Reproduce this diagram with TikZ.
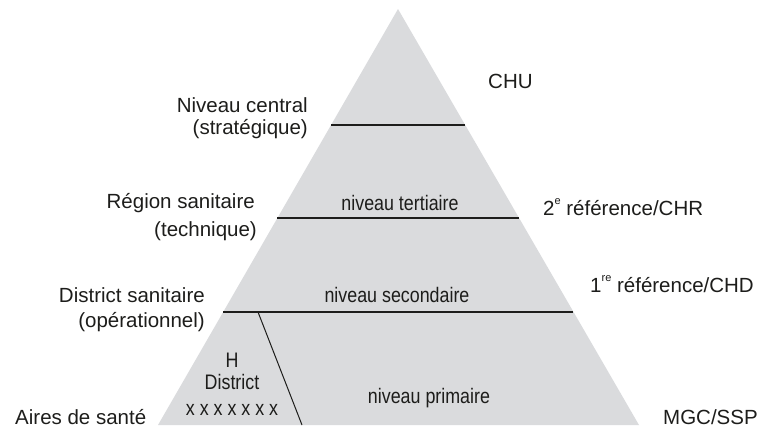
\documentclass[tikz,border=0pt]{standalone}
\usepackage{fontspec}
\setmainfont{Liberation Sans}
\newfontfamily\condfont[FakeStretch=0.85]{Liberation Sans}
\definecolor{pyrgray}{RGB}{218,219,221}
\definecolor{txt}{RGB}{29,29,27}
\newcommand\expo[1]{\raisebox{0.5em}{\fontsize{11}{11}\selectfont #1}}

\begin{document}
\begin{tikzpicture}[x=1pt,y=-1pt,
  lab/.style={font=\fontsize{20.5}{22}\selectfont,text=txt,inner sep=0pt},
  inlab/.style={font=\condfont\fontsize{21}{22}\selectfont,text=txt,inner sep=0pt},
  sep/.style={draw=txt,line width=1.3pt}]
\useasboundingbox (0,0) rectangle (761,429);
\coordinate (top) at (398,9);
\coordinate (bl) at (158,425);
\coordinate (br) at (639,425);
\fill[pyrgray] (top) -- (br) -- (bl) -- cycle;
% separations
\coordinate (c1) at (331,125); \coordinate (c2) at (465,125);
\coordinate (r1) at (277,218); \coordinate (r2) at (519,218);
\coordinate (d1) at (223,312); \coordinate (d2) at (573,312);
\coordinate (h1) at (258,312); \coordinate (h2) at (302,425);
\draw[sep] (c1) -- (c2);
\draw[sep] (r1) -- (r2);
\draw[sep] (d1) -- (d2);
\draw[txt,line width=1pt] (h1) -- (h2);
% left
\node[lab,anchor=base east] (central) at (308,112) {Niveau central};
\node[lab,anchor=base east] (strat) at (308,134) {(stratégique)};
\node[lab,anchor=base east] (region) at (255,208) {Région sanitaire};
\node[lab,anchor=base east] (tech) at (257,236) {(technique)};
\node[lab,anchor=base east] (district) at (205,302) {District sanitaire};
\node[lab,anchor=base east] (oper) at (205,327) {(opérationnel)};
\node[lab,anchor=base west] (aires) at (15,424) {Aires de santé};
% inside
\node[inlab,anchor=base] (tert) at (400,210) {niveau tertiaire};
\node[inlab,anchor=base] (sec) at (397,302) {niveau secondaire};
\node[inlab,anchor=base] (prim) at (429,403) {niveau primaire};
\node[inlab,anchor=base] (hop) at (232,367) {H};
\node[inlab,anchor=base] (hdist) at (232,389) {District};
\node[inlab,anchor=base] (xs) at (232,415) {x x x x x x x};
% right
\node[lab,anchor=base west] (chu) at (488,88) {CHU};
\node[lab,anchor=base west] (chr) at (543,215) {2\expo{e} référence/CHR};
\node[lab,anchor=base west] (chd) at (590,292) {1\expo{re} référence/CHD};
\node[lab,anchor=base west] (mgc) at (663,424) {MGC/SSP};
\end{tikzpicture}
\end{document}
